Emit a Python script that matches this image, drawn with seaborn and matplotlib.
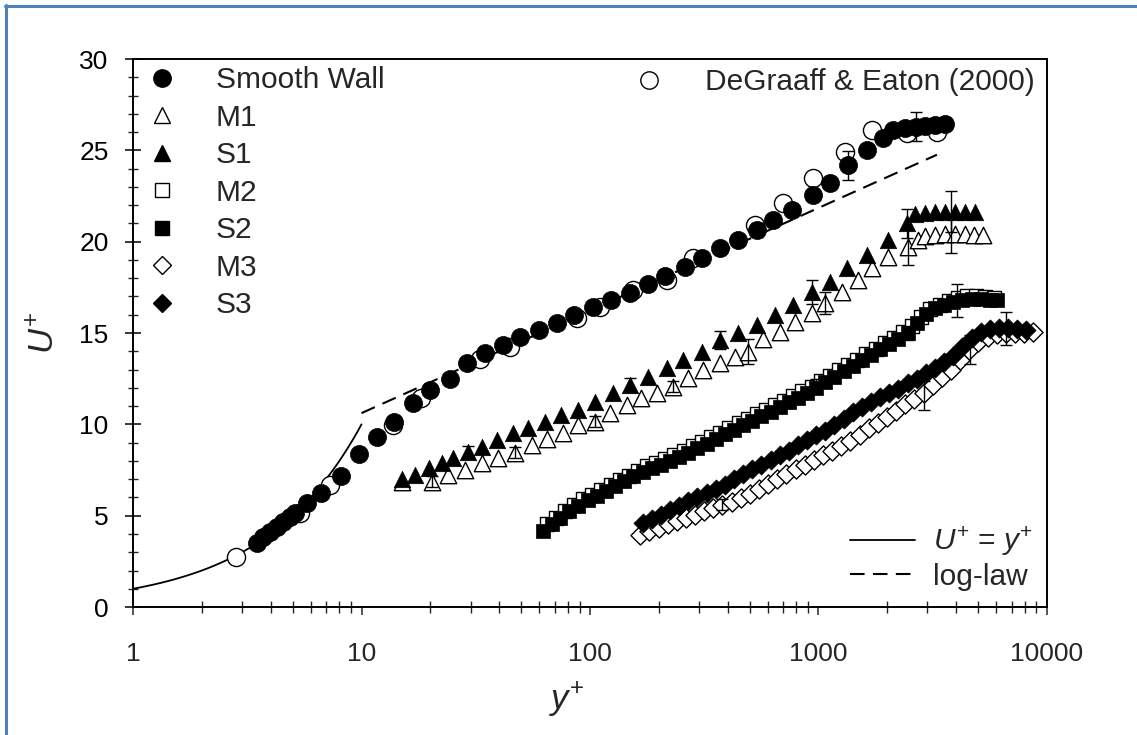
import numpy as np
import pandas as pd
import seaborn as sns
import matplotlib.pyplot as plt
from matplotlib.lines import Line2D
from matplotlib.ticker import MultipleLocator, LogLocator, FuncFormatter, NullFormatter

# ===============================
# Datos
# ===============================
sw_yp = [3.48, 3.72, 3.98, 4.25, 4.55, 4.86, 5.12, 5.75, 6.63, 8.11, 9.78, 11.65, 13.88,
         16.75, 19.95, 24.4, 28.9, 34.7, 41.5, 49.4, 60, 71.5, 85.1, 103, 124, 150, 180,
         214, 261, 308, 371, 446, 536, 634, 763, 949, 1122, 1350, 1625, 1925, 2120,
         2400, 2660, 2940, 3240, 3580]
sw_u = [3.52, 3.85, 4.12, 4.40, 4.67, 4.94, 5.13, 5.71, 6.26, 7.17, 8.37, 9.29, 10.14,
        11.18, 11.88, 12.5, 13.34, 13.89, 14.34, 14.8, 15.16, 15.56, 15.98, 16.4, 16.8,
        17.2, 17.68, 18.12, 18.63, 19.09, 19.63, 20.09, 20.63, 21.18, 21.73, 22.55,
        23.22, 24.19, 25.0, 25.65, 26.1, 26.2, 26.3, 26.35, 26.4, 26.45]

de_yp = [2.82, 5.38, 7.28, 13.8, 18.3, 33, 44.7, 87.4, 111, 155, 217, 282, 527, 702,
         949, 1306, 1709, 2430, 3290]
de_u = [2.75, 5.13, 6.68, 9.96, 11.42, 13.6, 14.25, 15.8, 16.44, 17.35, 17.9, 19.1,
        20.9, 22.1, 23.46, 24.92, 26.1, 25.93, 26.0]

s1_yp = [15.1, 17.1, 19.7, 22.4, 25.1, 29.3, 33.6, 39.1, 45.9, 53.7, 63.6, 75, 88.9,
         105, 126.5, 150, 180, 217, 256, 308, 371, 446, 536, 645, 776, 933, 1122, 1328,
         1625, 2022, 2432, 2645, 2930, 3240, 3580, 3960, 4380, 4850]
s1_u = [6.99, 7.22, 7.59, 7.86, 8.14, 8.5, 8.77, 9.14, 9.51, 9.78, 10.14, 10.51, 10.78,
        11.24, 11.7, 12.15, 12.6, 13.07, 13.52, 13.97, 14.61, 14.98, 15.44, 15.98, 16.53,
        17.26, 17.8, 18.54, 19.27, 20.09, 21.0, 21.5, 21.56, 21.6, 21.65, 21.65, 21.65,
        21.65]

m1_yp = [15.1, 20.3, 24, 28.4, 33.6, 39.7, 47, 55.6, 64.7, 76.4, 88.9, 105, 122, 145,
         168, 196, 232, 269, 313, 371, 431, 493, 574, 679, 789, 933, 1068, 1262, 1493,
         1709, 2022, 2460, 2735, 2930, 3240, 3580, 3960, 4380, 4800, 5260]
m1_u = [6.86, 6.86, 7.22, 7.5, 7.86, 8.14, 8.45, 8.87, 9.18, 9.54, 9.96, 10.14, 10.6,
        11.06, 11.42, 11.7, 12.06, 12.52, 12.97, 13.34, 13.7, 13.97, 14.7, 15.07, 15.6,
        16.08, 16.62, 17.26, 17.9, 18.54, 19.17, 19.72, 20.09, 20.3, 20.36, 20.4, 20.4,
        20.4, 20.38, 20.36]

s2_yp = [62, 68, 74, 81, 89, 98, 107, 117, 129, 141, 155, 170, 186, 204, 224, 245, 269,
         295, 324, 355, 389, 427, 468, 513, 562, 617, 676, 741, 813, 891, 977, 1072,
         1175, 1288, 1413, 1549, 1698, 1862, 2042, 2239, 2455, 2692, 2951, 3236, 3548,
         3890, 4266, 4677, 5129, 5623, 6026]
s2_u = [4.15, 4.55, 4.9, 5.25, 5.55, 5.85, 6.1, 6.35, 6.65, 6.9, 7.15, 7.4, 7.6, 7.8,
        8.0, 8.2, 8.45, 8.7, 8.95, 9.2, 9.45, 9.7, 9.95, 10.2, 10.45, 10.7, 10.95, 11.2,
        11.45, 11.7, 12.0, 12.3, 12.6, 12.9, 13.2, 13.5, 13.8, 14.1, 14.4, 14.7, 15.0,
        15.55, 16.05, 16.35, 16.55, 16.7, 16.8, 16.85, 16.85, 16.8, 16.8]

m2_yp = [65, 71, 78, 85, 93, 102, 112, 123, 135, 148, 162, 178, 195, 214, 234, 257, 282,
         309, 339, 372, 407, 447, 490, 537, 589, 646, 708, 776, 851, 933, 1023, 1122,
         1230, 1349, 1479, 1622, 1778, 1950, 2138, 2344, 2570, 2818, 3090, 3388, 3715,
         4074, 4467, 4898, 5370, 5888]
m2_u = [4.55, 4.9, 5.25, 5.6, 5.9, 6.15, 6.4, 6.7, 6.95, 7.2, 7.45, 7.7, 7.9, 8.1, 8.3,
        8.55, 8.8, 9.05, 9.3, 9.55, 9.8, 10.05, 10.3, 10.55, 10.8, 11.05, 11.3, 11.55,
        11.8, 12.05, 12.35, 12.65, 12.95, 13.25, 13.55, 13.85, 14.15, 14.45, 14.75,
        15.05, 15.4, 15.9, 16.3, 16.55, 16.75, 16.9, 17.0, 17.0, 16.95, 16.9]

s3_yp = [170, 186, 204, 224, 245, 269, 295, 324, 355, 389, 427, 468, 513, 562, 617, 676,
         741, 813, 891, 977, 1072, 1175, 1288, 1413, 1549, 1698, 1862, 2042, 2239, 2455,
         2692, 2951, 3236, 3548, 3890, 4266, 4677, 5129, 5623, 6166, 6761, 7413, 8128]
s3_u = [4.6, 4.8, 5.05, 5.3, 5.55, 5.8, 6.0, 6.22, 6.45, 6.7, 7.0, 7.3, 7.55, 7.8, 8.05,
        8.3, 8.55, 8.85, 9.15, 9.4, 9.65, 9.95, 10.3, 10.65, 10.95, 11.25, 11.5, 11.7,
        11.95, 12.25, 12.5, 12.8, 13.1, 13.4, 13.75, 14.25, 14.75, 15.05, 15.2, 15.25,
        15.25, 15.2, 15.15]

m3_yp = [166, 182, 200, 219, 240, 263, 288, 316, 347, 380, 417, 457, 501, 550, 603, 661,
         724, 794, 871, 955, 1047, 1148, 1259, 1380, 1514, 1660, 1820, 1995, 2188, 2399,
         2630, 2884, 3162, 3467, 3802, 4169, 4571, 5012, 5495, 6026, 6607, 7244, 7943,
         8710]
m3_u = [3.94, 4.14, 4.35, 4.55, 4.72, 4.88, 5.05, 5.25, 5.42, 5.57, 5.75, 5.97, 6.2,
        6.45, 6.72, 7.0, 7.3, 7.56, 7.8, 8.06, 8.3, 8.55, 8.82, 9.1, 9.4, 9.78, 10.1,
        10.4, 10.75, 11.1, 11.4, 11.7, 12.15, 12.6, 13.0, 13.5, 14.05, 14.5, 14.8, 14.95,
        15.0, 15.0, 15.0, 15.05]

# barras de error (y+, U+, +/-)
err_yp = [214, 536, 1350, 2660, 29.3, 150, 371, 933, 2432, 3800, 20.3, 47, 105, 232,
          493, 1068, 2460, 3800, 2455, 4030, 977, 2900, 6600, 4600, 380]
err_u = [18.12, 20.63, 24.19, 26.3, 8.5, 12.15, 14.61, 17.26, 21.0, 21.65, 6.86, 8.45,
         10.14, 12.06, 14.0, 16.62, 19.72, 20.4, 15.0, 16.8, 12.2, 11.6, 15.25, 14.1, 5.6]
err_e = [0.3, 0.4, 0.8, 0.8, 0.3, 0.4, 0.5, 0.65, 0.8, 1.1, 0.3, 0.3, 0.3, 0.3, 0.7,
         0.6, 1.0, 1.0, 0.4, 0.9, 0.3, 0.8, 0.9, 0.8, 0.3]

# leyes de pared
kappa = 0.41
B = 5.0
yp_visc = np.logspace(0, 1, 60)
yp_log = np.logspace(1, np.log10(3300), 60)

# ===============================
# Estilo
# ===============================
sns.set_style("ticks")
plt.rcParams["font.family"] = ["Liberation Sans", "DejaVu Sans"]
plt.rcParams["mathtext.fontset"] = "custom"
plt.rcParams["mathtext.it"] = "Liberation Sans:italic"
plt.rcParams["mathtext.rm"] = "Liberation Sans"

fig = plt.figure(figsize=(11.37, 7.35), dpi=100)
ax = fig.add_axes([0.117, 0.1741, 0.8038, 0.7456])

# lineas teoricas
sns.lineplot(x=yp_visc, y=yp_visc, color="black", lw=1.3, ax=ax, zorder=2)
sns.lineplot(x=yp_log, y=np.log(yp_log) / kappa + B, color="black", lw=1.5,
             dashes=False, ax=ax, zorder=2).lines[-1].set_dashes((7, 4))

# series
open_kw = dict(color="white", edgecolor="black", linewidth=1.0, ax=ax)
fill_kw = dict(color="black", edgecolor="black", linewidth=0.5, ax=ax)
sns.scatterplot(x=de_yp, y=de_u, marker="o", s=170, zorder=3, **open_kw)
sns.scatterplot(x=sw_yp, y=sw_u, marker="o", s=170, zorder=4, **fill_kw)
sns.scatterplot(x=m1_yp, y=m1_u, marker="^", s=140, zorder=3, **open_kw)
sns.scatterplot(x=s1_yp, y=s1_u, marker="^", s=140, zorder=4, **fill_kw)
sns.scatterplot(x=m2_yp, y=m2_u, marker="s", s=110, zorder=3, **open_kw)
sns.scatterplot(x=s2_yp, y=s2_u, marker="s", s=110, zorder=4, **fill_kw)
sns.scatterplot(x=m3_yp, y=m3_u, marker="D", s=95, zorder=3, **open_kw)
sns.scatterplot(x=s3_yp, y=s3_u, marker="D", s=95, zorder=4, **fill_kw)

ax.errorbar(err_yp, err_u, yerr=err_e, fmt="none", ecolor="black", elinewidth=1.0,
            capsize=4, capthick=1.0, zorder=5)

# ===============================
# Ejes
# ===============================
ax.set_xscale("log")
ax.set_xlim(1, 10000)
ax.set_ylim(0, 30)
ax.yaxis.set_major_locator(MultipleLocator(5))
ax.yaxis.set_minor_locator(MultipleLocator(1))
ax.xaxis.set_major_locator(LogLocator(base=10))
ax.xaxis.set_minor_locator(LogLocator(base=10, subs=np.arange(2, 10)))
ax.xaxis.set_major_formatter(FuncFormatter(lambda v, p: f"{v:g}"))
ax.xaxis.set_minor_formatter(NullFormatter())

ax.tick_params(axis="y", which="major", direction="inout", length=11, width=1.1,
               labelsize=19, pad=12, colors="black")
ax.tick_params(axis="y", which="minor", direction="inout", length=7, width=1.0)
ax.tick_params(axis="x", which="major", direction="out", length=6, width=1.1,
               labelsize=19, pad=19)
ax.tick_params(axis="x", which="minor", direction="inout", length=8, width=1.0)
ax.tick_params(top=False, right=False, which="both")
for sp in ax.spines.values():
    sp.set_visible(True)
    sp.set_color("black")
    sp.set_linewidth(1.4)

ax.set_xlabel(r"$y^{+}$", fontsize=25)
ax.xaxis.set_label_coords(0.475, -0.135)
ax.set_ylabel(r"$U^{+}$", fontsize=25, labelpad=13)

# ===============================
# Leyendas
# ===============================
def mk(marker, filled, ms):
    return Line2D([], [], ls="none", marker=marker, markersize=ms,
                  markerfacecolor="black" if filled else "white",
                  markeredgecolor="black", markeredgewidth=1.0)

h1 = [mk("o", True, 12.5), mk("^", False, 11), mk("^", True, 11), mk("s", False, 10),
      mk("s", True, 10), mk("D", False, 9), mk("D", True, 9)]
l1 = ["Smooth Wall", "M1", "S1", "M2", "S2", "M3", "S3"]
leg1 = ax.legend(h1, l1, loc="upper left", bbox_to_anchor=(-0.004, 1.009), frameon=False,
                 fontsize=21.5, labelspacing=0.32, handletextpad=1.1, borderaxespad=0.0,
                 handlelength=1.4)
ax.add_artist(leg1)

leg2 = ax.legend([mk("o", False, 12.5)], ["DeGraaff & Eaton (2000)"], loc="upper right",
                 bbox_to_anchor=(1.0, 1.005), frameon=False, fontsize=21.5,
                 handletextpad=1.2, borderaxespad=0.0, handlelength=1.4)
ax.add_artist(leg2)

h3 = [Line2D([], [], color="black", lw=1.3),
      Line2D([], [], color="black", lw=1.5, dashes=(7, 4))]
ax.legend(h3, [r"$U^{+}$ = $y^{+}$", "log-law"], loc="lower right",
          bbox_to_anchor=(1.003, 0.0), frameon=False, fontsize=21.5, labelspacing=0.15,
          handlelength=2.2, handletextpad=0.6, borderaxespad=0.15)

# marco azul
blue = "#4F81BD"
fig.add_artist(Line2D([5 / 1137, 1], [1 - 6 / 735] * 2, transform=fig.transFigure,
                      color=blue, lw=2.2))
fig.add_artist(Line2D([6 / 1137] * 2, [0, 1 - 5 / 735], transform=fig.transFigure,
                      color=blue, lw=2.2))

fig.savefig("out.png", dpi=100)
